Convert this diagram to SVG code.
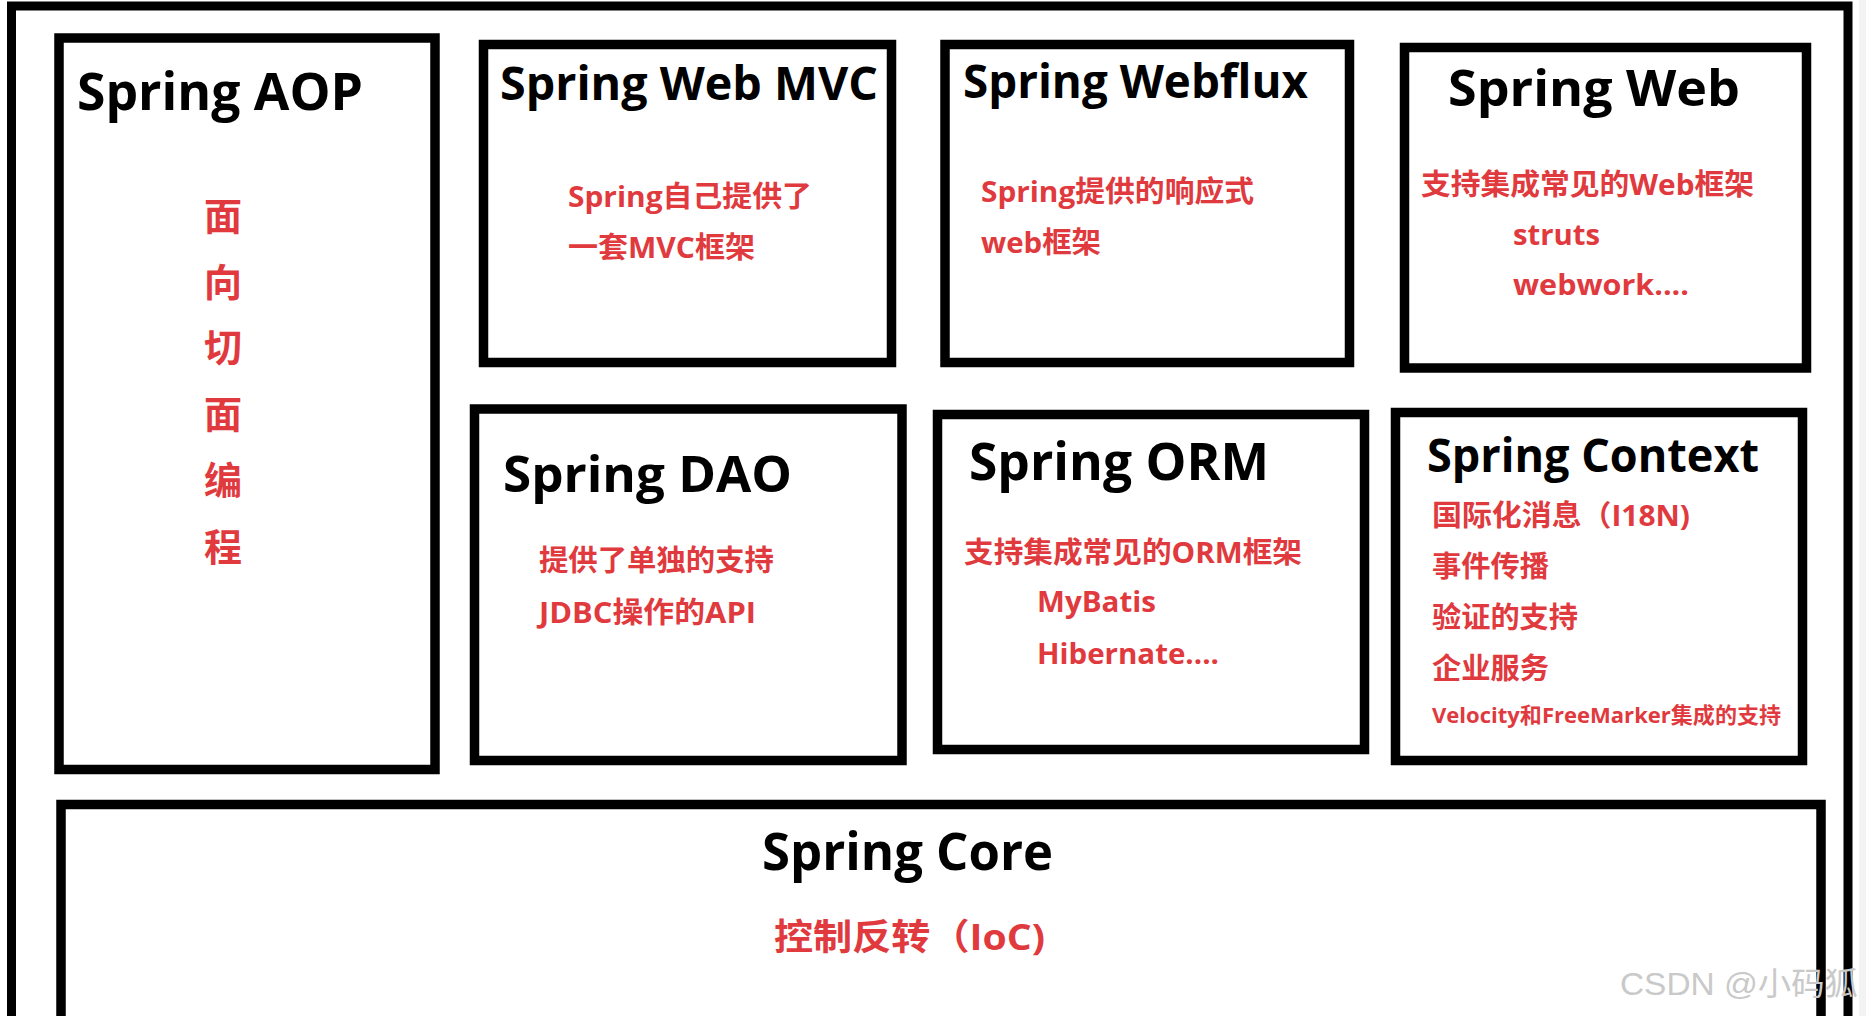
<svg xmlns="http://www.w3.org/2000/svg" width="1866" height="1016" viewBox="0 0 1866 1016">
<style>
.box{fill:#fff;stroke:#000;stroke-width:9.5}
.title{font-family:"Open Sans","Noto Sans CJK SC",sans-serif;font-weight:700;fill:#000}
.red{font-family:"Open Sans","Noto Sans CJK SC",sans-serif;font-weight:700;fill:#e03a3e;font-size:29px}
.aop{font-family:"Noto Sans CJK SC",sans-serif;font-weight:700;fill:#e03a3e;font-size:38px;text-anchor:middle}
.wm{font-family:"Liberation Sans","Noto Sans CJK SC",sans-serif;fill:#c9c9c9;font-size:32px}
</style>
<rect x="0" y="0" width="1866" height="1016" fill="#fff"/>
<rect x="1859" y="0" width="7" height="1016" fill="#f3f3f3"/>
<g id="frame">
<rect x="11.5" y="6" width="1836.5" height="1100" fill="none" stroke="#000" stroke-width="9"/>
</g>
<g id="connectors"/>
<g id="spring-aop">
<rect class="box" x="59" y="38" width="376" height="731.5"/>
<text class="title" x="77" y="110" font-size="52" textLength="286" lengthAdjust="spacingAndGlyphs">Spring AOP</text>
<text class="aop" x="223" y="230">面</text>
<text class="aop" x="223" y="296">向</text>
<text class="aop" x="223" y="361">切</text>
<text class="aop" x="223" y="428">面</text>
<text class="aop" x="223" y="494">编</text>
<text class="aop" x="223" y="561">程</text>
</g>
<g id="spring-web-mvc">
<rect class="box" x="483.5" y="44.5" width="408" height="318"/>
<text class="title" x="500" y="100" font-size="46" textLength="378" lengthAdjust="spacingAndGlyphs">Spring Web MVC</text>
<text class="red" x="568" y="207" textLength="244" lengthAdjust="spacingAndGlyphs">Spring自己提供了</text>
<text class="red" x="568" y="258" textLength="187" lengthAdjust="spacingAndGlyphs">一套MVC框架</text>
</g>
<g id="spring-webflux">
<rect class="box" x="945" y="44.5" width="404.5" height="318"/>
<text class="title" x="963" y="98" font-size="46" textLength="345" lengthAdjust="spacingAndGlyphs">Spring Webflux</text>
<text class="red" x="981" y="202" textLength="273" lengthAdjust="spacingAndGlyphs">Spring提供的响应式</text>
<text class="red" x="981" y="253" textLength="120" lengthAdjust="spacingAndGlyphs">web框架</text>
</g>
<g id="spring-web">
<rect class="box" x="1404.5" y="47.5" width="402" height="320.5"/>
<text class="title" x="1448" y="106" font-size="51" textLength="292" lengthAdjust="spacingAndGlyphs">Spring Web</text>
<text class="red" x="1421" y="195" textLength="333" lengthAdjust="spacingAndGlyphs">支持集成常见的Web框架</text>
<text class="red" x="1513" y="245" textLength="87" lengthAdjust="spacingAndGlyphs">struts</text>
<text class="red" x="1513" y="295" textLength="176" lengthAdjust="spacingAndGlyphs">webwork....</text>
</g>
<g id="spring-dao">
<rect class="box" x="474.5" y="409" width="427.5" height="351.5"/>
<text class="title" x="503" y="492" font-size="51" textLength="289" lengthAdjust="spacingAndGlyphs">Spring DAO</text>
<text class="red" x="539" y="571" textLength="235" lengthAdjust="spacingAndGlyphs">提供了单独的支持</text>
<text class="red" x="539" y="623" textLength="217" lengthAdjust="spacingAndGlyphs">JDBC操作的API</text>
</g>
<g id="spring-orm">
<rect class="box" x="937.5" y="414.5" width="427" height="335"/>
<text class="title" x="969" y="480" font-size="52" textLength="300" lengthAdjust="spacingAndGlyphs">Spring ORM</text>
<text class="red" x="964" y="563" textLength="338" lengthAdjust="spacingAndGlyphs">支持集成常见的ORM框架</text>
<text class="red" x="1037" y="612" textLength="119" lengthAdjust="spacingAndGlyphs">MyBatis</text>
<text class="red" x="1037" y="664" textLength="182" lengthAdjust="spacingAndGlyphs">Hibernate....</text>
</g>
<g id="spring-context">
<rect class="box" x="1395.5" y="412.5" width="407" height="348"/>
<text class="title" x="1427" y="472" font-size="46" textLength="332" lengthAdjust="spacingAndGlyphs">Spring Context</text>
<text class="red" x="1432" y="526" textLength="258" lengthAdjust="spacingAndGlyphs">国际化消息（I18N)</text>
<text class="red" x="1432" y="577" textLength="117" lengthAdjust="spacingAndGlyphs">事件传播</text>
<text class="red" x="1432" y="628" textLength="146" lengthAdjust="spacingAndGlyphs">验证的支持</text>
<text class="red" x="1432" y="679" textLength="117" lengthAdjust="spacingAndGlyphs">企业服务</text>
<text class="red" x="1432" y="723" font-size="22" textLength="349" lengthAdjust="spacingAndGlyphs" style="font-size:22px">Velocity和FreeMarker集成的支持</text>
</g>
<g id="spring-core">
<rect class="box" x="61" y="804.5" width="1760" height="400"/>
<text class="title" x="762" y="870" font-size="52" textLength="291" lengthAdjust="spacingAndGlyphs">Spring Core</text>
<text class="red" x="774" y="950" textLength="271" lengthAdjust="spacingAndGlyphs" style="font-size:36px">控制反转（IoC)</text>
</g>
<g id="watermark">
<text class="wm" x="1620" y="995" textLength="238" lengthAdjust="spacingAndGlyphs">CSDN @小码狐</text>
</g>
</svg>
